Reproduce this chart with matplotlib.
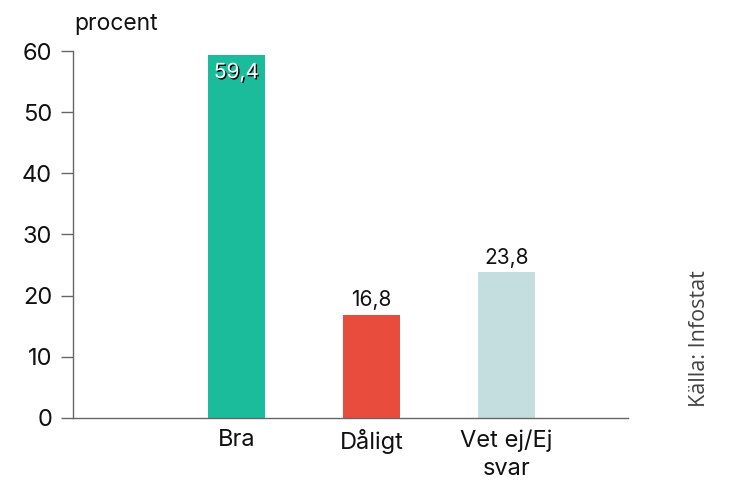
import matplotlib.pyplot as plt
import matplotlib.patheffects as pe

# Data
categories = ['Bra', 'Dåligt', 'Vet ej/Ej\nsvar']
values = [59.4, 16.8, 23.8]
colors = ['#1abc9c', '#e74c3c', '#c4dee0']
value_labels = ['59,4', '16,8', '23,8']
yticks = [0, 10, 20, 30, 40, 50, 60]

plt.rcParams['font.family'] = ['Inter', 'DejaVu Sans']

fig = plt.figure(figsize=(7.46, 5.01), dpi=100)
ax = fig.add_axes([0.0979, 0.1657, 0.744, 0.7325])

x = list(range(len(categories)))
bars = ax.bar(x, values, width=0.42, color=colors)

ax.set_xlim(-1.21, 2.90)
ax.set_ylim(0, 60)
ax.set_xticks(x)
ax.set_xticklabels(categories, fontsize=17, color='#111111', linespacing=1.4)
ax.set_yticks(yticks)
ax.set_yticklabels([str(t) for t in yticks], fontsize=17, color='#111111')
ax.tick_params(axis='x', length=0, pad=8)
ax.tick_params(axis='y', length=9, width=1, color='#666666', pad=6)

for s in ['top', 'right']:
    ax.spines[s].set_visible(False)
for s in ['left', 'bottom']:
    ax.spines[s].set_color('#666666')
    ax.spines[s].set_linewidth(1)

# Value labels
for i, (v, lab) in enumerate(zip(values, value_labels)):
    if v > 40:
        ax.text(i, v - 1.2, lab, ha='center', va='top', fontsize=15,
                color='white',
                path_effects=[pe.withSimplePatchShadow(offset=(1, -1), shadow_rgbFace='black', alpha=1)])
    else:
        ax.text(i, v + 0.8, lab, ha='center', va='bottom', fontsize=15,
                color='#111111')

fig.text(0.100, 0.94, 'procent', fontsize=16.5, color='#111111', ha='left', va='baseline')
fig.text(0.938, 0.325, 'Källa: Infostat', fontsize=15.5, color='#444444',
         rotation=90, ha='center', va='center', family=['Open Sans', 'DejaVu Sans'])

fig.savefig('out.png', dpi=100)
